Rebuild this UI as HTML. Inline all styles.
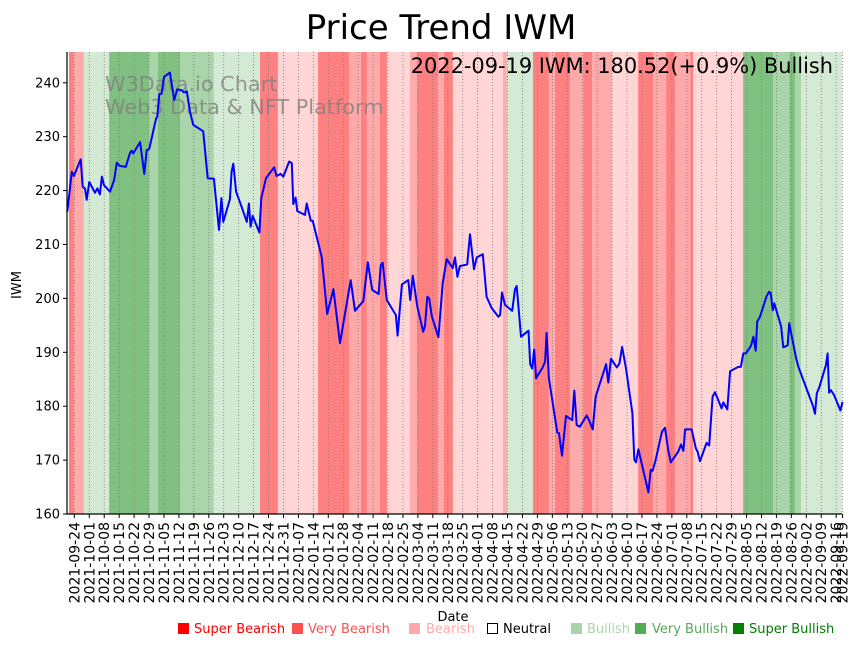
<!DOCTYPE html>
<html><head><meta charset="utf-8"><style>
body{margin:0;background:#fff;}
svg{display:block;font-family:"DejaVu Sans","Liberation Sans",sans-serif;}
</style></head><body>
<svg id="chart" width="860" height="646">
<text x="441" y="39" font-size="34" text-anchor="middle">Price Trend IWM</text>
<g id="bands"></g>
<g id="grid"></g>
<text x="105" y="91" font-size="20.8" fill="#808080" fill-opacity="0.8">W3Data.io Chart</text>
<text x="105" y="114" font-size="20.8" fill="#808080" fill-opacity="0.8">Web3 Data &amp; NFT Platform</text>
<path id="line" fill="none" stroke="#0000ff" stroke-width="2" stroke-linejoin="round"></path>
<text x="833" y="73" font-size="20.9" text-anchor="end">2022-09-19 IWM: 180.52(+0.9%) Bullish</text>
<g id="axes"></g>
<text x="453" y="621" font-size="13" text-anchor="middle">Date</text>
<text transform="translate(21,285) rotate(-90)" font-size="13" text-anchor="middle">IWM</text>
<g font-size="13">
<g><rect x="178" y="623" width="11" height="11" fill="#ff0000"/><text x="194" y="633" fill="#ff0000">Super Bearish</text></g>
<g><rect x="292" y="623" width="11" height="11" fill="#ff5050"/><text x="308" y="633" fill="#ff5050">Very Bearish</text></g>
<g><rect x="409" y="623" width="11" height="11" fill="#ffaaaa"/><text x="426" y="633" fill="#ffaaaa">Bearish</text></g>
<g><rect x="487.5" y="623.5" width="10" height="10" fill="none" stroke="#000"/><text x="503" y="633" fill="#000">Neutral</text></g>
<g><rect x="571" y="623" width="11" height="11" fill="#aad5aa"/><text x="587" y="633" fill="#aad5aa">Bullish</text></g>
<g><rect x="635" y="623" width="11" height="11" fill="#55aa55"/><text x="652" y="633" fill="#55aa55">Very Bullish</text></g>
<g><rect x="733" y="623" width="11" height="11" fill="#008000"/><text x="749" y="633" fill="#008000">Super Bullish</text></g>
</g>
</svg>
<script>
// day offsets from 2021-09-20
const days=[0.7,2.8,3.8,7.0,7.9,9.0,9.8,11.0,13.7,14.8,16.0,16.9,17.9,20.7,22.7,23.9,25.1,28.1,30.1,30.9,31.6,34.8,36.8,37.9,39.1,42.3,42.9,43.8,44.9,46.0,48.8,50.8,52.2,54.3,55.4,56.7,58.2,59.7,64.4,66.5,69.4,71.8,72.9,73.8,76.9,77.7,78.5,79.8,82.4,84.8,85.8,86.6,87.6,90.7,91.6,93.8,97.6,98.8,100.7,101.9,104.7,105.9,106.6,107.7,108.5,112.1,112.9,114.8,115.7,119.9,122.5,125.4,128.5,133.5,135.5,139.4,141.5,143.6,146.6,147.6,148.5,150.4,154.7,155.5,157.5,160.5,161.4,162.6,164.7,167.5,168.3,169.4,170.3,171.5,174.6,176.6,178.5,181.3,182.4,183.5,184.7,188.1,189.4,191.3,192.6,195.4,197.2,199.6,202.7,203.5,204.4,205.8,209.2,210.5,211.3,213.3,216.8,217.6,218.5,219.5,220.4,223.5,224.6,225.3,226.4,230.3,231.1,232.5,234.4,237.3,238.3,239.4,240.9,244.1,245.3,246.9,248.3,253.2,254.2,255.5,258.2,259.4,260.7,262.5,265.5,266.4,267.2,268.3,273.0,274.1,275.0,276.4,279.4,280.8,282.3,283.5,287.0,288.3,289.4,290.2,293.3,295.2,296.1,297.2,300.3,301.5,303.1,304.2,307.3,308.1,310.0,311.3,315.1,316.3,317.5,318.7,321.1,322.2,323.3,324.0,325.3,328.4,329.5,330.3,331.3,332.0,335.2,336.2,338.3,339.0,342.2,343.3,345.9,350.0,351.1,351.9,353.1,356.2,357.0,357.7,358.5,360.0,363.0,364];
const prices=[216.1,223.5,222.7,225.8,220.7,220.4,218.3,221.6,219.6,220.4,219.3,222.6,221,219.8,222,225.2,224.6,224.4,227,227.4,226.9,229,223.1,227.5,227.7,233.4,233.7,237.9,238,241.1,241.9,236.8,238.8,238.6,238.2,238.4,234.6,232.2,231,222.3,222.2,212.7,218.6,214.2,218.4,223.5,225,219.8,217,214.2,217.6,213.3,215.3,212.2,218.6,222.3,224.3,222.7,223.1,222.6,225.4,225.1,217.5,218.7,216.2,215.5,217.6,214.4,214.4,207.7,197.1,201.7,191.7,203.4,197.7,199.5,206.7,201.6,200.8,206.2,206.6,199.7,196.9,193.1,202.6,203.4,199.7,204.2,198.5,193.8,194.9,200.3,200,196.7,192.8,202.8,207.3,205.6,207.6,204,206,206.3,211.9,205.4,207.6,208.2,200.3,198.2,196.6,196.9,201.1,198.8,197.7,201.7,202.3,192.9,194,187.8,187,190.5,185.2,187.2,188.3,193.6,185.2,175.1,175,170.8,178.2,177.4,182.9,176.5,176.2,178.3,177.3,175.7,181.8,187.8,184.4,188.8,187.2,187.9,191,187,178.7,170.1,169.6,172,164,168.2,168,170,175.3,176,171.9,169.6,171.6,172.9,171.7,175.7,175.7,172.2,171.5,169.8,173.2,172.7,181.8,182.6,179.6,180.7,179.4,186.5,187.3,187.3,189.8,189.8,191.2,192.9,190.3,195.7,196.6,200.4,201.2,201,197.8,199.1,194.8,190.9,191.3,195.4,188.9,187.3,184.5,180.2,178.6,182.4,183.5,187.6,189.8,182.5,183,182.1,179.2,180.8,180.52];
const bandStart=[1.5,3.8,8.5,20.3,39.1,43.2,53.5,69.4,91,99.4,118.2,132.7,138.3,141.1,147.2,150.5,161.3,164.6,174.4,177.2,181.4,204.9,206.7,218.9,226.4,229.2,236.3,242.4,246.6,256,268.2,275.2,281.3,285.6,292.6,294,317.4,331.5,339,341.8,344.6];
const bandEnd=[3.8,8.5,20.3,39.1,43.2,53.5,69.4,91,99.4,118.2,132.7,138.3,141.1,147.2,150.5,161.3,164.6,174.4,177.2,181.4,204.9,206.7,218.9,226.4,229.2,236.3,242.4,246.6,256,268.2,275.2,281.3,285.6,292.6,294,317.4,331.5,339,341.8,344.6,364.5];
const bandLevel=[-3,-2,1,3,2,3,2,1,-3,-1,-3,-2,-3,-2,-3,-1,-2,-3,-2,-3,-1,-2,1,-3,-2,-3,-2,-3,-2,-1,-3,-2,-3,-2,-3,-1,3,2,3,2,1];
const yTicks=[160,170,180,190,200,210,220,230,240];

const NS='http://www.w3.org/2000/svg';
const L=67,R=842,T=52,B=514;
const x=d=>65.8+d*2.134;
const y=v=>B-(v-160)*5.39;
const colors={'-3':'#ff8080','-2':'#ffaaaa','-1':'#ffd5d5','1':'#d5ead5','2':'#aad5aa','3':'#80c080'};
function mk(tag,attrs,parent){const e=document.createElementNS(NS,tag);for(const k in attrs)e.setAttribute(k,attrs[k]);parent.appendChild(e);return e;}

const bg=document.getElementById('bands');
bandStart.forEach((s,i)=>{
  const r=mk('rect',{x:x(s),y:T,width:Math.max(0,Math.min(R,x(bandEnd[i]))-x(s)),height:B-T,fill:colors[bandLevel[i]]},bg);
  
  
});

const grid=document.getElementById('grid'),axes=document.getElementById('axes');
const start=Date.UTC(2021,8,20);
const tickDays=[];for(let d=4;d<=361;d+=7)tickDays.push(d);tickDays.push(364);
tickDays.forEach(d=>{
  const px=x(d);
  const g=mk('line',{x1:px,x2:px,y1:T,y2:B,stroke:'#777','stroke-width':0.8,'stroke-dasharray':'1,2'},grid);
  
  
  mk('line',{x1:px,x2:px,y1:B,y2:B+4,stroke:'#000','stroke-width':1},axes);
  const dt=new Date(start+d*86400000).toISOString().slice(0,10);
  const t=mk('text',{transform:`translate(${px+5},${B+8}) rotate(-90)`,'font-size':14,'text-anchor':'end'},axes);
  t.textContent=dt;
  
  
});
yTicks.forEach(v=>{
  const py=y(v);
  mk('line',{x1:L-4,x2:L,y1:py,y2:py,stroke:'#000'},axes);
  const t=mk('text',{x:L-7,y:py+4.5,'font-size':13,'text-anchor':'end'},axes);
  t.textContent=v;
  
  
});
mk('line',{x1:L,x2:L,y1:T,y2:B+0.5,stroke:'#000','stroke-width':1.2},axes);
mk('line',{x1:L-0.5,x2:R,y1:B,y2:B,stroke:'#000','stroke-width':1.2},axes);

document.getElementById('line').setAttribute('d',days.map((d,i)=>(i?'L':'M')+x(d).toFixed(1)+','+y(prices[i]).toFixed(1)).join(''));
</script>
</body></html>
